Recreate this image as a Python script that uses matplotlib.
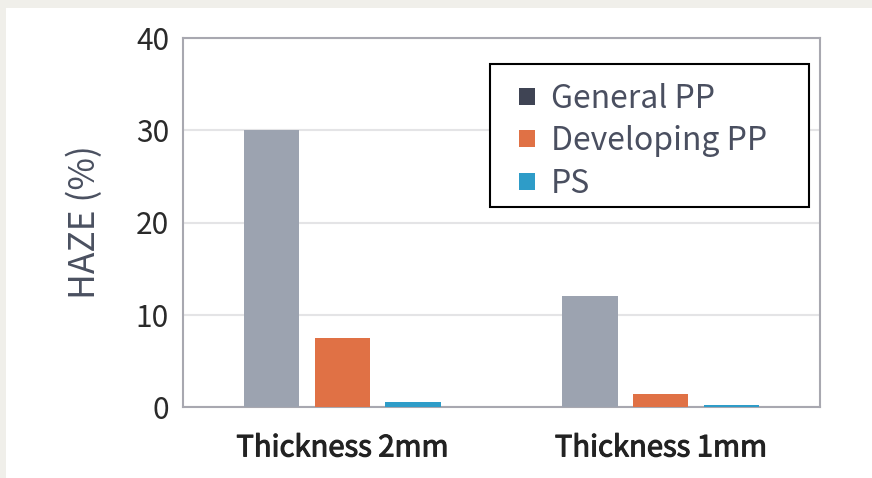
import matplotlib
matplotlib.use("Agg")
import matplotlib.pyplot as plt
import matplotlib.patheffects as pe
from matplotlib.patches import Rectangle, Patch
import numpy as np

plt.rcParams['font.family'] = ['Noto Sans CJK JP', 'DejaVu Sans']

categories = ["Thickness 2mm", "Thickness 1mm"]
series_names = ["General PP", "Developing PP", "PS"]
general_pp = [30.0, 12.0]
developing_pp = [7.5, 1.4]
ps = [0.5, 0.2]
y_ticks = [0, 10, 20, 30, 40]

bar_colors = ["#9ca3b0", "#e07145", "#2e9cc8"]
legend_colors = ["#3f4454", "#e07145", "#2e9cc8"]

W, H = 872, 478
fig = plt.figure(figsize=(W / 100, H / 100), dpi=100)
fig.patch.set_facecolor("#f0efea")
bg = Rectangle((6 / W, 0), 1, 1 - 8 / H, transform=fig.transFigure,
               facecolor="white", edgecolor="none", zorder=-10)
fig.add_artist(bg)

ax_l, ax_r, ax_t, ax_b = 183, 820, 38, 407
ax = fig.add_axes([ax_l / W, 1 - ax_b / H, (ax_r - ax_l) / W, (ax_b - ax_t) / H])
ax.set_facecolor("white")

x = np.arange(len(categories))
offset = 0.222
width = 0.173
for i, (vals, col) in enumerate(zip([general_pp, developing_pp, ps], bar_colors)):
    ax.bar(x + (i - 1) * offset, vals, width=width, color=col, zorder=3)

ax.set_xlim(-0.5, 1.5)
ax.set_ylim(0, 40)
ax.set_yticks(y_ticks)
ax.set_xticks(x)
ax.set_xticklabels(categories, fontsize=21, color="#222222")
for t in ax.get_xticklabels():
    t.set_path_effects([pe.withStroke(linewidth=0.8, foreground="#222222")])
ax.tick_params(axis='x', length=0, pad=19)
ax.tick_params(axis='y', length=0, pad=10, labelsize=21.5, labelcolor="#2a2a2a")
ax.yaxis.grid(True, color="#e4e4e6", linewidth=1.5, zorder=0)
for s in ax.spines.values():
    s.set_color("#a8a8b0")
    s.set_linewidth(1.5)
ax.set_axisbelow(True)

ax.set_ylabel("HAZE (%)", fontsize=25.5, color="#4a5060", labelpad=24)

# legend frame drawn separately (reference box has wide right margin)
def ax_frac(px, py):
    return (px - ax_l) / (ax_r - ax_l), (ax_b - py) / (ax_b - ax_t)

fx0, fy0 = ax_frac(490, 207)
fx1, fy1 = ax_frac(809, 64)
ax.add_patch(Rectangle((fx0, fy0), fx1 - fx0, fy1 - fy0, transform=ax.transAxes,
                       facecolor="white", edgecolor="black", linewidth=1.5, zorder=5))

handles = [Patch(facecolor=c, edgecolor="none") for c in legend_colors]
leg = ax.legend(handles, series_names, loc="upper left",
                bbox_to_anchor=ax_frac(519, 82.5),
                fontsize=23, frameon=False,
                handlelength=0.5, handleheight=0.45, handletextpad=0.5,
                labelspacing=0.33, borderpad=0, borderaxespad=0)
leg.set_zorder(6)
for t in leg.get_texts():
    t.set_color("#4a4f60")

fig.savefig("out.png", dpi=100)
